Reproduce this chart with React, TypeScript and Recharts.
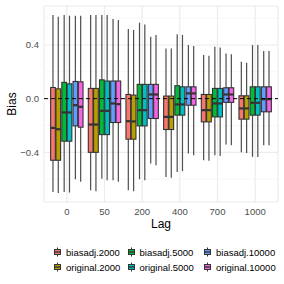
import React from 'react';
import { Bar, CartesianGrid, ComposedChart, ReferenceLine, XAxis, YAxis } from 'recharts';

const lags = ['0', '50', '200', '400', '700', '1000'];

const seriesNames = [
  'biasadj.2000',
  'original.2000',
  'biasadj.5000',
  'original.5000',
  'biasadj.10000',
  'original.10000',
];

const seriesColors = ['#F8766D', '#B79F00', '#00BA38', '#00BFC4', '#619CFF', '#F564E3'];

// [lower whisker, q1, median, q3, upper whisker] for each lag
const biasadj2000 = [
  [-0.695, -0.459, -0.218, 0.083, 0.623],
  [-0.683, -0.4, -0.193, 0.076, 0.623],
  [-0.683, -0.302, -0.168, 0.031, 0.519],
  [-0.583, -0.23, -0.136, 0.019, 0.374],
  [-0.459, -0.173, -0.086, 0.031, 0.325],
  [-0.4, -0.153, -0.073, 0.021, 0.275],
];
const original2000 = [
  [-0.703, -0.459, -0.228, 0.073, 0.61],
  [-0.69, -0.4, -0.193, 0.076, 0.623],
  [-0.69, -0.302, -0.17, 0.026, 0.511],
  [-0.59, -0.23, -0.136, 0.019, 0.374],
  [-0.462, -0.173, -0.086, 0.031, 0.32],
  [-0.405, -0.153, -0.073, 0.021, 0.267],
];
const biasadj5000 = [
  [-0.695, -0.317, -0.103, 0.121, 0.623],
  [-0.596, -0.268, -0.091, 0.14, 0.623],
  [-0.6, -0.203, -0.086, 0.106, 0.566],
  [-0.546, -0.123, -0.043, 0.096, 0.479],
  [-0.422, -0.136, -0.036, 0.076, 0.387],
  [-0.434, -0.123, -0.031, 0.088, 0.399],
];
const original5000 = [
  [-0.7, -0.317, -0.103, 0.11, 0.618],
  [-0.608, -0.268, -0.091, 0.131, 0.623],
  [-0.608, -0.203, -0.086, 0.106, 0.553],
  [-0.54, -0.123, -0.043, 0.088, 0.474],
  [-0.427, -0.136, -0.036, 0.076, 0.38],
  [-0.434, -0.123, -0.031, 0.088, 0.399],
];
const biasadj10000 = [
  [-0.6, -0.203, -0.049, 0.128, 0.618],
  [-0.608, -0.178, -0.036, 0.131, 0.593],
  [-0.484, -0.148, 0.031, 0.106, 0.461],
  [-0.409, -0.049, 0.039, 0.088, 0.399],
  [-0.342, -0.028, 0.031, 0.081, 0.337],
  [-0.347, -0.098, -0.004, 0.088, 0.354],
];
const original10000 = [
  [-0.62, -0.213, -0.061, 0.125, 0.618],
  [-0.62, -0.178, -0.041, 0.131, 0.586],
  [-0.496, -0.148, 0.031, 0.106, 0.474],
  [-0.422, -0.049, 0.039, 0.088, 0.392],
  [-0.347, -0.028, 0.031, 0.081, 0.33],
  [-0.347, -0.098, -0.004, 0.088, 0.354],
];

const seriesValues = [biasadj2000, original2000, biasadj5000, original5000, biasadj10000, original10000];

const yTicks = [-0.4, 0, 0.4];
const yMinorTicks = [-0.6, -0.2, 0.2, 0.6];

const data = lags.map((lag, i) => {
  const row: Record<string, any> = { lag };
  seriesNames.forEach((name, s) => {
    row[name] = seriesValues[s][i];
  });
  return row;
});

const FONT = '"Liberation Sans", Arial, Helvetica, sans-serif';
const LINE = '#333333';
const BOX_W = 5.3;
const PAIR_GAP = 0.6;

const fmt = (v: number) => (v === 0 ? '0.0' : v < 0 ? '\u2212' + Math.abs(v).toFixed(1) : v.toFixed(1));

// recharts rounds bar slots to whole pixels, so re-space the boxes around the group centre
const renderBox = (props: any, s: number, name: string, color: string) => {
  const { x, y, width, height, payload } = props;
  const stats = payload && payload[name];
  if (!stats) return <g />;
  const [lo, q1, med, q3, hi] = stats;
  const groupCenter = x + width / 2 + (2.5 - s) * width;
  const bx = groupCenter + (s - 3) * BOX_W + (Math.floor(s / 2) - 1) * PAIR_GAP;
  const top = Math.min(y, y + height);
  const bottom = Math.max(y, y + height);
  const py = (v: number) => top + ((q3 - v) / (q3 - q1)) * (bottom - top);
  const cx = bx + BOX_W / 2;
  return (
    <g>
      <line x1={cx} x2={cx} y1={py(hi)} y2={top} stroke="#4d4d4d" strokeWidth={1.2} />
      <line x1={cx} x2={cx} y1={bottom} y2={py(lo)} stroke="#4d4d4d" strokeWidth={1.2} />
      <rect x={bx + 0.3} y={top} width={BOX_W - 0.6} height={bottom - top} fill={color} stroke={LINE} strokeWidth={1.1} />
      <line x1={bx + 0.3} x2={bx + BOX_W - 0.3} y1={py(med)} y2={py(med)} stroke={LINE} strokeWidth={2.2} />
    </g>
  );
};

const LegendKey = ({ color }: { color: string }) => (
  <svg width={7} height={10} style={{ display: 'block' }}>
    <line x1={3.5} x2={3.5} y1={0.5} y2={9.5} stroke={LINE} strokeWidth={1} />
    <rect x={0.5} y={2.5} width={6} height={5} fill={color} stroke={LINE} strokeWidth={1} />
    <line x1={0.5} x2={6.5} y1={5} y2={5} stroke={LINE} strokeWidth={1.4} />
  </svg>
);

const legendCols = [54, 127.5, 204];
const legendRows = [245, 260];

export default function App() {
  return (
    <div style={{ position: 'absolute', left: 0, top: 0, width: 284, height: 284, background: '#fff', fontFamily: FONT }}>
      <ComposedChart
        width={284}
        height={284}
        data={data}
        margin={{ top: 6, right: 6, bottom: 52, left: 0 }}
        barGap={0}
        barCategoryGap={0.83}
      >
        <CartesianGrid stroke="#EBEBEB" strokeWidth={1.1} />
        {yMinorTicks.map((v) => (
          <ReferenceLine key={v} y={v} stroke="#F3F3F3" strokeWidth={0.7} zIndex={-50} />
        ))}
        <XAxis
          dataKey="lag"
          type="category"
          padding={{ left: 4, right: 4 }}
          axisLine={false}
          tickLine={false}
          tickSize={0}
          tickMargin={6}
          height={30}
          tick={{ fill: '#4D4D4D', fontSize: 9.5, fontFamily: FONT }}
          label={{
            content: (p: any) => {
              const vb = p.viewBox || { x: 44, width: 234 };
              return (
                <text x={vb.x + vb.width / 2} y={227.5} textAnchor="middle" fontSize={12} fontFamily={FONT} fill="#000">
                  Lag
                </text>
              );
            },
          }}
        />
        <YAxis
          type="number"
          domain={[-0.77, 0.69]}
          ticks={yTicks}
          tickFormatter={fmt}
          width={44}
          axisLine={false}
          tickLine={false}
          tickSize={0}
          tickMargin={5}
          tick={{ fill: '#4D4D4D', fontSize: 9.5, fontFamily: FONT }}
          label={{
            content: (p: any) => {
              const vb = p.viewBox || { y: 6, height: 196 };
              const cy = vb.y + vb.height / 2;
              return (
                <text
                  x={15.5}
                  y={cy}
                  transform={`rotate(-90 15.5 ${cy})`}
                  textAnchor="middle"
                  fontSize={12}
                  fontFamily={FONT}
                  fill="#000"
                >
                  Bias
                </text>
              );
            },
          }}
        />
        {seriesNames.map((name, s) => (
          <Bar
            key={name}
            dataKey={(row: any) => [row[name][1], row[name][3]]}
            name={name}
            fill={seriesColors[s]}
            isAnimationActive={false}
            shape={(p: any) => renderBox(p, s, name, seriesColors[s])}
            activeBar={false}
          />
        ))}
        <ReferenceLine y={0} stroke="#000" strokeWidth={1} strokeDasharray="4 3" zIndex={1000} />
      </ComposedChart>
      {seriesNames.map((name, s) => {
        const col = Math.floor(s / 2);
        const row = s % 2;
        return (
          <div
            key={name}
            style={{
              position: 'absolute',
              left: legendCols[col],
              top: legendRows[row],
              height: 14,
              display: 'flex',
              alignItems: 'center',
              fontSize: 9.5,
              color: '#000',
              whiteSpace: 'nowrap',
            }}
          >
            <LegendKey color={seriesColors[s]} />
            <span style={{ marginLeft: 5 }}>{name}</span>
          </div>
        );
      })}
    </div>
  );
}
